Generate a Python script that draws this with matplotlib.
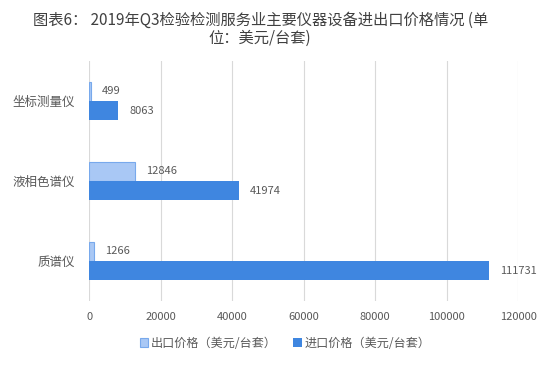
import matplotlib
matplotlib.use("Agg")
import matplotlib.pyplot as plt
import numpy as np

plt.rcParams['font.family'] = ['Noto Sans CJK SC', 'DejaVu Sans']

categories = ['坐标测量仪', '液相色谱仪', '质谱仪']
export_vals = [499, 12846, 1266]
import_vals = [8063, 41974, 111731]
series_names = ['出口价格（美元/台套）', '进口价格（美元/台套）']
xticks = [0, 20000, 40000, 60000, 80000, 100000, 120000]
title = '图表6： 2019年Q3检验检测服务业主要仪器设备进出口价格情况 (单\n位：美元/台套)'

txt = '#595959'
fig = plt.figure(figsize=(5.5, 3.77), dpi=100)
ax = fig.add_axes([0.162, 0.2016, 0.78, 0.6364])

y = np.arange(len(categories))
h = 0.24
b1 = ax.barh(y - h/2, export_vals, height=h, color='#A9C8F5', edgecolor='#78A9EC', linewidth=0.8, label=series_names[0])
b2 = ax.barh(y + h/2, import_vals, height=h, color='#3F86E0', label=series_names[1])

for bars, vals in ((b1, export_vals), (b2, import_vals)):
    for r, v in zip(bars, vals):
        ax.annotate(f'{v}', (r.get_width(), r.get_y() + r.get_height()/2),
                    xytext=(8, 0), textcoords='offset points', va='center', ha='left',
                    fontsize=8, color=txt)

ax.set_ylim(2.5, -0.5)
ax.set_xlim(0, 120000)
ax.set_xticks(xticks)
ax.set_xticklabels([str(t) for t in xticks], fontsize=8, color=txt)
ax.set_yticks(y)
ax.set_yticklabels(categories, fontsize=9, color=txt)
ax.tick_params(axis='both', length=0)
ax.tick_params(axis='x', pad=8)
ax.tick_params(axis='y', pad=10)
ax.grid(axis='x', color='#D9D9D9', linewidth=0.8)
ax.set_axisbelow(True)
for s in ax.spines.values():
    s.set_visible(False)

fig.text(0.473, 0.97, title, ha='center', va='top', fontsize=11, color='#404040', linespacing=1.15)

fig.legend(handles=[b1, b2], labels=series_names, loc='center', bbox_to_anchor=(0.518, 0.09),
           ncol=2, frameon=False, fontsize=8.7, handlelength=0.7, handleheight=0.7,
           handletextpad=0.2, columnspacing=1.4, labelcolor=txt)

fig.savefig('out.png', dpi=100, facecolor='white')
